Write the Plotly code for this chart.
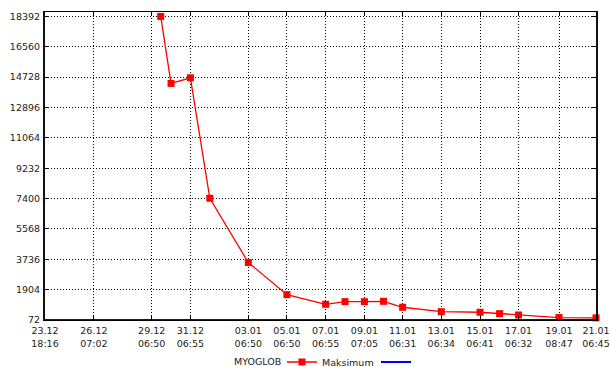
import plotly.graph_objects as go

# Data
dates = [
    "2023-12-29 18:00", "2023-12-30 06:50", "2023-12-31 06:55", "2024-01-01 07:00",
    "2024-01-03 06:50", "2024-01-05 06:50", "2024-01-07 06:55", "2024-01-08 07:00",
    "2024-01-09 07:05", "2024-01-10 06:45", "2024-01-11 06:31", "2024-01-13 06:34",
    "2024-01-15 06:41", "2024-01-16 07:00", "2024-01-17 06:32", "2024-01-19 08:47",
    "2024-01-21 06:45",
]
myoglob = [18392, 14350, 14690, 7420, 3540, 1600, 1020, 1180, 1180, 1200,
           840, 575, 540, 455, 375, 220, 200]

max_dates = ["2023-12-23 18:16", "2024-01-21 06:45"]
max_values = [72, 72]

x_tick_vals = [
    "2023-12-23 18:16", "2023-12-26 07:02", "2023-12-29 06:50", "2023-12-31 06:55",
    "2024-01-03 06:50", "2024-01-05 06:50", "2024-01-07 06:55", "2024-01-09 07:05",
    "2024-01-11 06:31", "2024-01-13 06:34", "2024-01-15 06:41", "2024-01-17 06:32",
    "2024-01-19 08:47", "2024-01-21 06:45",
]
x_tick_text = [
    "23.12<br>18:16", "26.12<br>07:02", "29.12<br>06:50", "31.12<br>06:55",
    "03.01<br>06:50", "05.01<br>06:50", "07.01<br>06:55", "09.01<br>07:05",
    "11.01<br>06:31", "13.01<br>06:34", "15.01<br>06:41", "17.01<br>06:32",
    "19.01<br>08:47", "21.01<br>06:45",
]
y_tick_vals = [72, 1904, 3736, 5568, 7400, 9232, 11064, 12896, 14728, 16560, 18392]

FONT = "DejaVu Sans"

fig = go.Figure()
fig.add_trace(go.Scatter(
    x=dates, y=myoglob, mode="lines+markers", name="Maksimum",
    line=dict(color="#ff0000", width=1.3),
    marker=dict(symbol="square", size=7, color="#ff0000"),
    cliponaxis=False,
))
fig.add_trace(go.Scatter(
    x=max_dates, y=max_values, mode="lines", name=" ",
    line=dict(color="#0000ff", width=2),
))

fig.add_annotation(
    text="MYOGLOB", xref="paper", yref="paper",
    x=(283 - 45) / 551, y=-(362 - 320) / 308,
    xanchor="right", yanchor="middle", showarrow=False,
    font=dict(size=9.5, color="#222"),
)

fig.update_layout(
    width=610, height=367,
    margin=dict(l=45, r=14, t=12, b=47),
    paper_bgcolor="white", plot_bgcolor="white",
    font=dict(family=FONT, size=10, color="#222"),
    showlegend=True,
    legend=dict(
        orientation="h", xref="container", yref="container",
        x=282 / 610, xanchor="left",
        y=1 - 362 / 367, yanchor="middle",
        font=dict(size=9.5), itemwidth=30, entrywidth=49,
        traceorder="normal", bgcolor="rgba(0,0,0,0)",
    ),
    xaxis=dict(
        type="date", automargin=False,
        range=[max_dates[0], max_dates[1]],
        tickmode="array", tickvals=x_tick_vals, ticktext=x_tick_text,
        tickangle=0, ticklabelstandoff=2,
        tickfont=dict(size=9.5),
        showgrid=True, gridcolor="black", griddash="1px,2px", gridwidth=1,
        showline=True, linecolor="black", linewidth=1, mirror="allticks",
        ticks="inside", ticklen=4, tickcolor="black",
        zeroline=False,
    ),
    yaxis=dict(
        range=[72, 18660], automargin=False,
        tickmode="array", tickvals=y_tick_vals,
        ticktext=[str(v) for v in y_tick_vals],
        tickfont=dict(size=9.5), ticklabelstandoff=1,
        showgrid=True, gridcolor="black", griddash="1px,2px", gridwidth=1,
        showline=True, linecolor="#111", linewidth=2, mirror="allticks",
        ticks="inside", ticklen=4, tickcolor="black",
        zeroline=False,
    ),
)

fig.write_html("out.html", config={"displayModeBar": False},
               post_script="document.body.style.margin='0';")
